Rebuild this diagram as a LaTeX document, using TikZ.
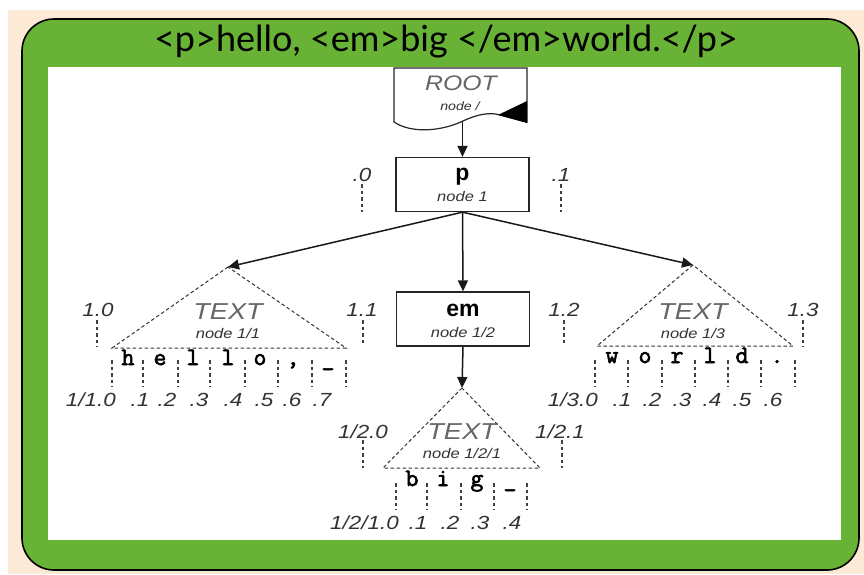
\documentclass[tikz,border=0pt]{standalone}
\usepackage{fontspec}
\usetikzlibrary{arrows.meta}
\setmainfont{Liberation Sans}
\newfontfamily\titlefont{Lato}
\newfontfamily\labfont[FakeStretch=1.18]{Liberation Sans}
\newfontfamily\charfont[FakeBold=2.5]{Latin Modern Mono}
\definecolor{pagebg}{RGB}{252,234,214}
\definecolor{framegreen}{RGB}{104,178,54}
\begin{document}
\begin{tikzpicture}[x=1pt,y=-1pt,
  arr/.style={draw=black!90, line width=1.5pt, -{Triangle[length=11pt,width=10pt]}},
  tri/.style={draw=black!80, line width=1pt, dash pattern=on 3.5pt off 2.5pt},
  tick/.style={draw=black!75, line width=1.5pt, dash pattern=on 3.5pt off 3pt},
  box/.style={draw=black!85, line width=1.3pt, fill=white, minimum width=133pt, minimum height=54pt, inner sep=0pt},
  poslab/.style={font=\labfont\itshape\fontsize{19}{19}\selectfont, text=black!80, inner sep=0pt},
  chr/.style={font=\charfont\fontsize{25}{25}\selectfont, inner sep=0pt, anchor=base},
  bigtext/.style={font=\labfont\itshape\fontsize{23}{23}\selectfont, text=black!60, inner sep=0pt},
  sub/.style={font=\labfont\itshape\fontsize{14}{14}\selectfont, text=black!80, inner sep=0pt},
  elem/.style={font=\bfseries\fontsize{23}{23}\selectfont, inner sep=0pt}]
\useasboundingbox (0,0) rectangle (864,574);

% page and frame
\fill[pagebg] (8,10) rectangle (864,574);
\draw[fill=framegreen, draw=black, line width=1.6pt, rounded corners=32pt] (22,19) rectangle (859,570);
\fill[white] (48,67) rectangle (841,540);
\node[font=\titlefont\fontsize{36}{36}\selectfont, inner sep=0pt] (title) at (446,42) {<p>hello, <em>big </em>world.</p>};

% ROOT document shape
\draw[draw=black!85, line width=1.2pt, fill=white] (527,122) -- (527,68) -- (394,68) -- (394,122)
  .. controls (412,134) and (442,131) .. (463,121)
  .. controls (478,114) and (490,112) .. (500,115) -- cycle;
\fill[black] (527,101) -- (527,123) -- (498,115) -- cycle;
\node[bigtext, font=\labfont\itshape\fontsize{21}{21}\selectfont] (rootlab) at (461,83) {ROOT};
\node[sub, font=\labfont\itshape\fontsize{12}{12}\selectfont] (rootsub) at (460,106) {node /};
\coordinate (rootfoot) at (462.5,121);

% element boxes
\node[box] (p) at (462.5,184.5) {};
\node[elem] (plab) at (462.5,177) {p};
\node[sub] (psub) at (462.5,196) {node 1};
\node[box] (em) at (463,319) {};
\node[elem] (emlab) at (463,310) {em};
\node[sub] (emsub) at (463,332) {node 1/2};

% text triangles
\coordinate (t1a) at (228,267); \coordinate (t1l) at (112,348); \coordinate (t1r) at (346,348);
\coordinate (t2a) at (693,265); \coordinate (t2l) at (597,346); \coordinate (t2r) at (793,346);
\coordinate (t3a) at (462,388); \coordinate (t3l) at (383,468); \coordinate (t3r) at (540,468);
\draw[tri] (t1a) -- (t1l) -- (t1r) -- cycle;
\draw[tri] (t2a) -- (t2l) -- (t2r) -- cycle;
\draw[tri] (t3a) -- (t3l) -- (t3r) -- cycle;
\node[bigtext] (t1lab) at (228,312) {TEXT};
\node[sub] (t1sub) at (228,333) {node 1/1};
\node[bigtext] (t2lab) at (693,312) {TEXT};
\node[sub] (t2sub) at (693,333) {node 1/3};
\node[bigtext] (t3lab) at (462,432) {TEXT};
\node[sub] (t3sub) at (462,453) {node 1/2/1};

% connectors
\draw[arr] (rootfoot) -- (p.north);
\draw[arr] (p.south) -- (t1a);
\draw[arr] (p.south) -- (em.north);
\draw[arr] (p.south) -- (t2a);
\draw[arr] (em.south) -- (t3a);

% boundary positions around element nodes
\node[poslab] (b0) at (362,175) {.0};  \draw[tick] (362,184) -- (362,212);
\node[poslab] (b1) at (561,175) {.1};  \draw[tick] (561,184) -- (561,212);
\node[poslab] (b10) at (98,310) {1.0}; \draw[tick] (97,320) -- (97,347);
\node[poslab] (b11) at (362,310) {1.1}; \draw[tick] (363,320) -- (363,346);
\node[poslab] (b12) at (564,310) {1.2}; \draw[tick] (564,320) -- (564,346);
\node[poslab] (b13) at (803,310) {1.3}; \draw[tick] (803,320) -- (803,347);
\node[poslab] (b20) at (363,432) {1/2.0}; \draw[tick] (363,440) -- (363,468);
\node[poslab] (b21) at (560,432) {1/2.1}; \draw[tick] (562,440) -- (562,468);

% characters of "hello, "
\foreach \x in {112,143,178,210,245,278,312,346} \draw[tick] (\x,360) -- (\x,387);
\foreach \x/\c [count=\i] in {128/h,160/e,193/l,228/l,260/o,293/{,},328/\_}
  \node[chr] (hc\i) at (\x,365) {\c};
\node[poslab, anchor=east] (hp0) at (116,400) {1/1.0};
\foreach \x/\k in {140/1,167/2,199/3,233/4,264/5,292/6,322/7}
  \node[poslab] (hp\k) at (\x,400) {.\k};

% characters of "world."
\foreach \x in {595,628,662,695,728,761,795} \draw[tick] (\x,360) -- (\x,387);
\foreach \x/\c [count=\i] in {612/w,645/o,677/r,710/l,742/d,777/.}
  \node[chr] (wc\i) at (\x,363) {\c};
\node[poslab, anchor=east] (wp0) at (598,400) {1/3.0};
\foreach \x/\k in {622/1,652/2,682/3,712/4,742/5,773/6}
  \node[poslab] (wp\k) at (\x,400) {.\k};

% characters of "big "
\foreach \x in {396,427,461,494,527} \draw[tick] (\x,483) -- (\x,510);
\foreach \x/\c [count=\i] in {412/b,443/i,477/g,510/\_}
  \node[chr] (bc\i) at (\x,486) {\c};
\node[poslab, anchor=east] (bp0) at (399,523) {1/2/1.0};
\foreach \x/\k in {418/1,450/2,480/3,512/4}
  \node[poslab] (bp\k) at (\x,523) {.\k};
\end{tikzpicture}
\end{document}
